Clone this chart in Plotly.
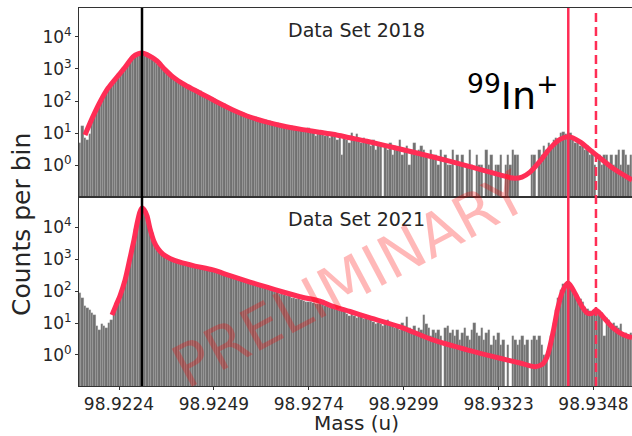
import numpy as np
import plotly.graph_objects as go

# ---------------------------------------------------------------------------
# Histogram binning (mass in u)
# ---------------------------------------------------------------------------
BIN_START = 98.921353
BIN_WIDTH = 6.2935e-5

# Counts per bin, data set 2018
counts_2018 = (
    [5, 17, 7, 6, 9]
    + [28, 40, 60, 85, 112, 158, 214, 282, 363, 457, 550, 708, 871, 1070, 1318,
       1585, 1862, 2188, 2512, 2818, 3020, 3162]
    + [2800, 2500, 2300, 1950, 1650, 1400, 1200, 1020, 890, 760,
       660, 575, 500, 437, 398, 363, 339, 316, 288, 269,
       251, 234, 219, 200, 178, 158, 145, 132, 123, 112,
       102, 88, 85, 78, 71, 63, 52, 51, 48, 38,
       43, 41, 38, 33, 34, 32, 31, 29, 28, 24,
       25, 24, 23, 20, 21, 20, 19, 15, 18, 17,
       16, 16, 13, 14, 14, 13, 12, 12, 14, 11,
       11, 8, 11, 10]
    + [9, 8, 10, 7, 8, 9, 6, 7, 2, 8, 6, 5, 10, 7, 9, 6, 5, 7, 6]
    + [5, 4, 6, 3, 4, 5, 0, 4, 3, 5, 2, 4, 3, 6, 2, 3, 4, 1, 3, 5,
       2, 3, 4, 3, 2, 0, 3, 2]
    + [2, 1, 3, 0, 2, 1, 1, 3, 0, 2, 1, 2, 0, 1, 3, 1, 0, 2, 1, 1,
       0, 3, 1, 2, 0, 1, 1, 2, 0, 1, 2, 1, 3]
    + [2, 2, 0, 0, 0, 0, 0, 2, 2, 0]
    + [3, 2, 4, 3, 5, 4, 6, 7, 6, 10, 11, 9, 8, 10, 6, 5, 6, 4, 5, 3,
       4, 2, 3, 1, 0, 2, 1, 2, 2, 1, 2, 1, 2, 3, 1, 3, 2, 1, 2]
)

# Counts per bin, data set 2021
counts_2021 = (
    [85, 60, 35, 30, 26, 20, 18, 8, 6, 9, 8, 7, 10]
    + [12, 25, 40, 56, 89, 141, 251, 500, 1260, 3160, 8900, 20000, 33000, 40000]
    + [31600, 22400, 11200, 6300, 3700, 2400, 1900, 1580, 1320, 1170,
       1050, 955, 890, 830, 795, 740, 710, 675, 645, 615,
       590, 560, 537, 525, 500, 490, 468, 457, 437, 427,
       398, 380, 363, 339, 324, 302, 288, 269, 257, 240,
       229, 214, 204, 195, 186, 178, 170, 158, 140, 135,
       120, 118, 105, 100, 92, 90, 80, 78, 74, 70,
       68, 62, 60, 57, 55, 52, 50, 47, 45, 44,
       42, 40, 39, 38]
    + [40, 35, 41, 30, 33, 27, 30, 25, 27, 23]
    + [19, 16, 20, 17, 14, 16, 17, 13, 14, 12, 13, 11, 9, 10, 9, 8, 9, 12, 8]
    + [9, 7, 8, 6, 10, 8, 15, 7, 6, 8, 5, 7, 6, 18, 9, 7, 4, 6]
    + [5, 6, 4, 0, 7, 8, 5, 6]
    + [4, 6, 3, 5, 7, 4, 3, 6, 10, 5, 4, 7, 3, 5, 6, 2, 4, 3, 5, 2]
    + [3, 0, 2, 0, 4, 3, 2, 3, 4, 2, 3, 0, 3, 4, 3, 4, 2, 1, 1]
    + [0, 4, 10, 25, 60, 110, 160, 175, 150, 120, 90, 80, 70, 55, 45, 32, 28, 24,
       22, 20, 22, 24, 20, 4, 14, 12, 9, 10, 8, 7, 9, 4, 5, 4, 5]
)

# Fitted line shapes (mass, counts)
fit_mass_2018 = [
    98.921510, 98.921693, 98.921903, 98.922112, 98.922348, 98.922557, 98.922766,
    98.922897, 98.923002, 98.923133, 98.923264, 98.923395, 98.923604, 98.923813,
    98.924128, 98.924520, 98.924913, 98.925384, 98.925829, 98.926274, 98.926693,
    98.927138, 98.927661, 98.928001, 98.928446, 98.928891, 98.929755, 98.930619,
    98.931587, 98.932373, 98.932713, 98.932949, 98.933158, 98.933420, 98.933681,
    98.933943, 98.934179, 98.934467, 98.934728, 98.934990, 98.935330, 98.935828,
]
fit_counts_2018 = [
    8.7, 28.2, 93.3, 251, 562, 1122, 2399, 2951, 3162, 2818,
    2291, 1778, 955, 562, 316, 178, 100, 52.5, 31.6, 21.9,
    16.6, 13.2, 10.5, 9.12, 7.08, 5.5, 3.16, 1.78,
    0.89, 0.49, 0.39, 0.42, 0.60, 1.32, 3.31,
    6.31, 7.59, 5.25, 2.95, 1.66, 0.79, 0.34,
]

fit_mass_2021 = [
    98.922217, 98.922321, 98.922426, 98.922557, 98.922688, 98.922793, 98.922871,
    98.922950, 98.923002, 98.923054, 98.923133, 98.923211, 98.923316, 98.923421,
    98.923552, 98.923735, 98.923997, 98.924389, 98.924860, 98.925305, 98.925829,
    98.926274, 98.926693, 98.927138, 98.927661, 98.928001, 98.928446, 98.928891,
    98.929755, 98.930619, 98.931509, 98.932373, 98.932896, 98.933289, 98.933472,
    98.933603, 98.933760, 98.933891, 98.934022, 98.934153, 98.934257, 98.934388,
    98.934519, 98.934650, 98.934781, 98.934885, 98.934990, 98.935121, 98.935330,
    98.935592, 98.935828,
]
fit_counts_2021 = [
    17.8, 35.5, 70.8, 219, 1072, 3981, 12590, 30200, 39810, 35480,
    22390, 8913, 3548, 2089, 1413, 1047, 794, 603, 457, 302,
    191, 132, 93.3, 66.1, 47.9, 33.1, 22.9, 15.5, 7.59, 2.95, 1.45,
    0.79, 0.56, 0.43, 0.5, 0.87, 5.0, 31.6, 107, 178, 126,
    64.6, 33.1, 20.9, 20.0, 25.1, 20.0, 13.2, 7.08, 4.37, 3.47,
]

# Reference masses
MASS_REF = 98.923002        # main peak
MASS_IN99 = 98.934160       # 99In+
MASS_IN99_ALT = 98.934885   # dashed marker

X_RANGE = [98.921353, 98.935828]
X_TICKS = [98.92240, 98.924884, 98.927368, 98.929852, 98.932336, 98.93482]
Y_TICKS = [1, 10, 100, 1000, 10000]
Y_TICKTEXT = ["10<sup>0</sup>", "10<sup>1</sup>", "10<sup>2</sup>",
              "10<sup>3</sup>", "10<sup>4</sup>"]

# ---------------------------------------------------------------------------
FONT = "DejaVu Sans"
BAR_COLOR = "#707070"
FIT_COLOR = "#ff2d55"
TEXT_COLOR = "#262626"

n_bins = len(counts_2018)
centers = BIN_START + BIN_WIDTH * (np.arange(n_bins) + 0.5)


def nonzero(vals):
    return [v if v > 0 else None for v in vals]


fig = go.Figure()

for counts, fx, fy, xa, ya in [
    (counts_2018, fit_mass_2018, fit_counts_2018, "x", "y"),
    (counts_2021, fit_mass_2021, fit_counts_2021, "x2", "y2"),
]:
    fig.add_trace(go.Bar(
        x=centers, y=nonzero(counts), width=BIN_WIDTH,
        marker=dict(color=BAR_COLOR, line=dict(color="rgba(200,200,200,0.55)", width=0.4)),
        xaxis=xa, yaxis=ya, showlegend=False, hoverinfo="skip",
    ))
    fig.add_trace(go.Scatter(
        x=fx, y=fy, mode="lines",
        line=dict(color=FIT_COLOR, width=5, shape="spline", smoothing=0.8),
        xaxis=xa, yaxis=ya, showlegend=False, hoverinfo="skip",
    ))

axis_common = dict(
    showline=True, linecolor="#333333", linewidth=1, mirror=True,
    showgrid=False, zeroline=False,
    tickfont=dict(family=FONT, size=17, color=TEXT_COLOR),
)

fig.update_layout(
    width=632, height=436,
    margin=dict(l=79, r=0, t=8, b=50),
    paper_bgcolor="white", plot_bgcolor="white",
    bargap=0,
    font=dict(family=FONT, color=TEXT_COLOR),
    xaxis=dict(domain=[0, 1], anchor="y", range=X_RANGE,
               showticklabels=False, ticks="", **axis_common),
    xaxis2=dict(domain=[0, 1], anchor="y2", range=X_RANGE, matches="x",
                tickvals=X_TICKS, tickformat=".4f",
                ticks="outside", ticklen=3, tickcolor="#333333", **axis_common),
    yaxis=dict(domain=[0.5, 1], anchor="x", type="log", range=[-1.0, 4.906],
               tickvals=Y_TICKS, ticktext=Y_TICKTEXT,
               ticks="outside", ticklen=3, tickcolor="#333333", **axis_common),
    yaxis2=dict(domain=[0, 0.5], anchor="x2", type="log", range=[-0.97, 4.94],
                tickvals=Y_TICKS, ticktext=Y_TICKTEXT,
                ticks="outside", ticklen=3, tickcolor="#333333", **axis_common),
)

# Vertical reference lines across both panels
fig.add_shape(type="line", xref="x", yref="paper", x0=MASS_REF, x1=MASS_REF,
              y0=0, y1=1, line=dict(color="black", width=2.5), layer="above")
fig.add_shape(type="line", xref="x", yref="paper", x0=MASS_IN99, x1=MASS_IN99,
              y0=0, y1=1, line=dict(color=FIT_COLOR, width=2.5), layer="above")
fig.add_shape(type="line", xref="x", yref="paper", x0=MASS_IN99_ALT, x1=MASS_IN99_ALT,
              y0=0, y1=1, line=dict(color=FIT_COLOR, width=2.5, dash="9px,5px"),
              layer="above")

annotations = [
    dict(text="Data Set 2018", x=0.501, y=0.942, font=dict(size=19)),
    dict(text="Data Set 2021", x=0.501, y=0.442, font=dict(size=19)),
    dict(text="<sup>99</sup>In<sup>+</sup>", x=0.784, y=0.775,
         font=dict(size=38, color="black")),
    dict(text="Mass (u)", x=0.501, y=-0.1323, yanchor="bottom", borderpad=0,
         font=dict(size=20)),
    dict(text="Counts per bin", x=-0.103, y=0.426, textangle=-90, font=dict(size=25)),
    dict(text="PRELIMINARY", x=0.49, y=0.283, textangle=-28,
         font=dict(size=59, color="rgba(255,0,0,0.28)")),
]
for a in annotations:
    a.setdefault("font", {})
    a["font"].setdefault("family", FONT)
    a["font"].setdefault("color", TEXT_COLOR)
    a.setdefault("yanchor", "middle")
    fig.add_annotation(xref="paper", yref="paper", showarrow=False,
                       xanchor="center", **a)

fig.write_html("out.html")
